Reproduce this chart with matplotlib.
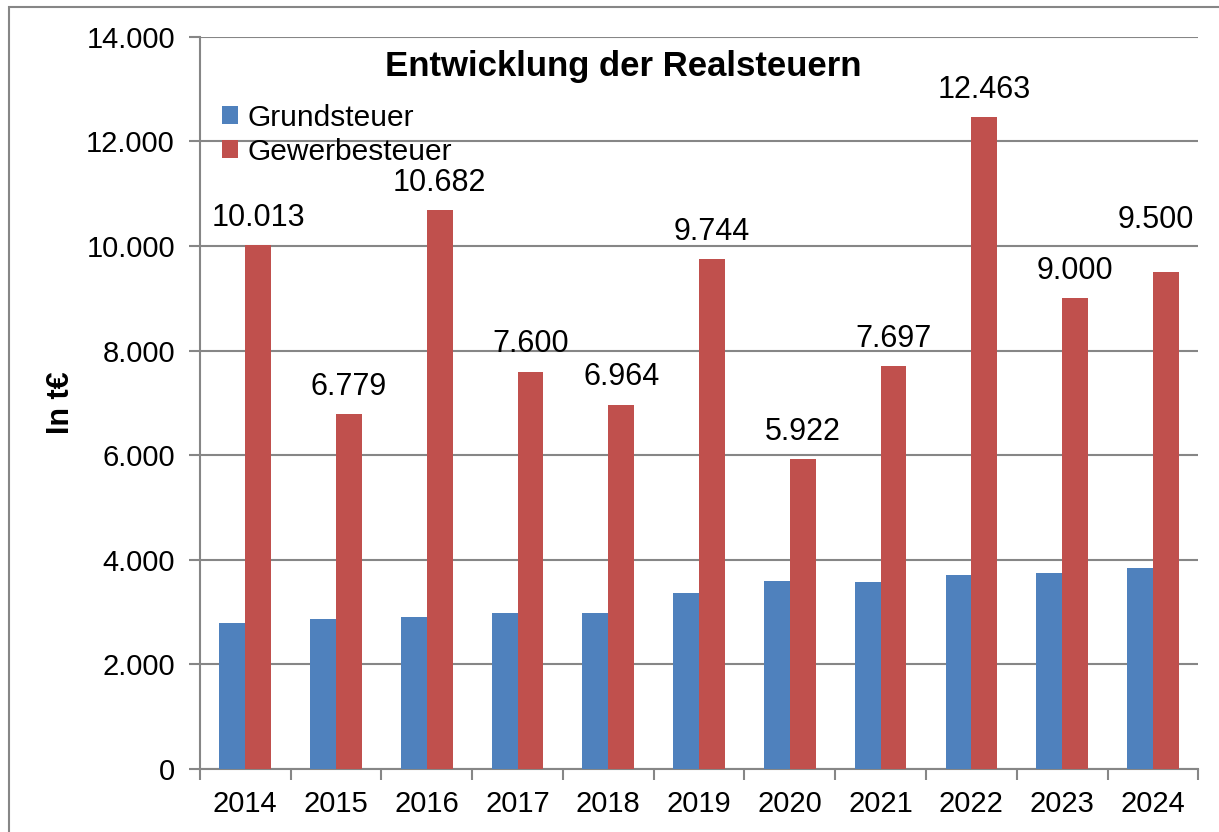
import matplotlib.pyplot as plt
import numpy as np
from matplotlib.patches import Rectangle

plt.rcParams['font.family'] = ['Liberation Sans', 'DejaVu Sans']

# Daten
jahre = ['2014', '2015', '2016', '2017', '2018', '2019', '2020', '2021', '2022', '2023', '2024']
grundsteuer = [2796, 2860, 2905, 2987, 2976, 3370, 3600, 3567, 3707, 3752, 3847]
gewerbesteuer = [10013, 6779, 10682, 7600, 6964, 9744, 5922, 7697, 12463, 9000, 9500]

blau = '#4F81BD'
rot = '#C0504D'
grau = '#868686'

fig = plt.figure(figsize=(12.19, 8.32), dpi=100)
ax = fig.add_axes([0.164, 0.0757, 0.819, 0.88])

x = np.arange(len(jahre))
w = 0.285
ax.bar(x - w / 2, grundsteuer, w, color=blau, label='Grundsteuer', zorder=3)
ax.bar(x + w / 2, gewerbesteuer, w, color=rot, label='Gewerbesteuer', zorder=3)

# Beschriftung über den roten Balken (letzte manuell verschoben wie im Original)
for i, (xi, v) in enumerate(zip(x, gewerbesteuer)):
    txt = f'{v:,}'.replace(',', '.')
    dx, dy = (-7, 32) if i == len(x) - 1 else (0, 14)
    ax.annotate(txt, (xi + w / 2, v), xytext=(dx, dy), textcoords='offset points',
                ha='center', va='baseline', fontsize=22)

ax.set_xlim(-0.5, len(jahre) - 0.5)
ax.set_ylim(0, 14000)
ax.set_yticks(range(0, 14001, 2000))
ax.set_yticklabels([f'{t:,}'.replace(',', '.') for t in range(0, 14001, 2000)], fontsize=21)
ax.set_xticks(x)
ax.set_xticklabels(jahre, fontsize=21)
ax.set_xticks(np.arange(-0.5, len(jahre)), minor=True)
ax.tick_params(axis='x', which='major', length=0, pad=15)
ax.tick_params(axis='x', which='minor', length=8, width=1.5, color=grau)
ax.tick_params(axis='y', length=8, width=1.5, color=grau, pad=10)

ax.grid(axis='y', color=grau, linewidth=1.5, zorder=0)
for s in ['top', 'right']:
    ax.spines[s].set_visible(False)
for s in ['left', 'bottom']:
    ax.spines[s].set_color(grau)
    ax.spines[s].set_linewidth(1.5)

ax.set_ylabel('In t€', fontsize=22, fontweight='bold', labelpad=7)

fig.text(0.511, 0.92, 'Entwicklung der Realsteuern', fontsize=25, fontweight='bold',
         ha='center', va='center')

ax.legend(loc='upper left', bbox_to_anchor=(0.01, 0.925), frameon=False, fontsize=21.5,
          handlelength=0.55, handleheight=0.55, handletextpad=0.3, labelspacing=0.2,
          borderaxespad=0)

# Rahmen um das Diagramm
fig.patches.append(Rectangle((9 / 1219, -0.05), 1.2, 1.0 - 7 / 832 + 0.05, transform=fig.transFigure,
                             fill=False, edgecolor=grau, linewidth=1.5))

fig.savefig('out.png', dpi=100)
